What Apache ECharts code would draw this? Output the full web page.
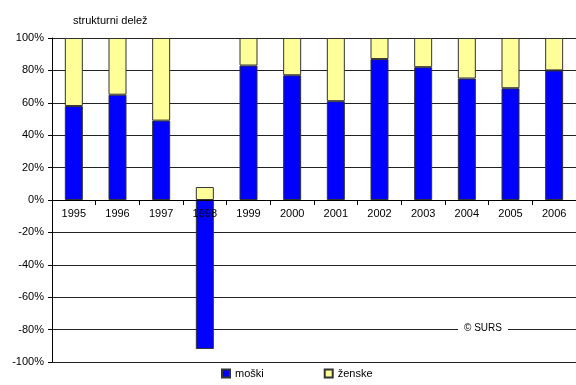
<!DOCTYPE html>
<html><head><meta charset="utf-8">
<script src="https://cdn.jsdelivr.net/npm/echarts@6/dist/echarts.min.js"></script>
<style>html,body{margin:0;padding:0;background:#fff}#c{width:576px;height:385px}</style>
</head><body><div id="c"></div>
<script>
var years = ['1995','1996','1997','1998','1999','2000','2001','2002','2003','2004','2005','2006'];
var moski = [58, 65, 49, -92, 83, 77, 61, 87, 82, 75, 69, 80];
var zenske = [42, 35, 51, 8, 17, 23, 39, 13, 18, 25, 31, 20];
var yTicks = [-100, -80, -60, -40, -20, 0, 20, 40, 60, 80, 100];

var chart = echarts.init(document.getElementById('c'), null, {renderer: 'canvas'});
var font = 'Liberation Sans, Arial, sans-serif';
chart.setOption({
  animation: false,
  backgroundColor: '#fff',
  textStyle: {fontFamily: font},
  title: {text: 'strukturni delež', left: 68, top: 10, textStyle: {fontSize: 11, fontWeight: 'normal', color: '#000', fontFamily: font}},
  legend: {
    bottom: 1, left: 216, itemGap: 60, itemWidth: 8, itemHeight: 8,
    textStyle: {fontSize: 11, color: '#000', fontFamily: font},
    data: [{name: 'moški', icon: 'rect'}, {name: 'ženske', icon: 'rect'}]
  },
  grid: {left: 52, right: 0, top: 38, bottom: 23},
  xAxis: {
    type: 'category', data: years, position: 'bottom', offset: -162,
    axisLine: {onZero: false, lineStyle: {color: '#000', width: 1}},
    axisTick: {show: true, length: 5, lineStyle: {color: '#000'}},
    axisLabel: {fontSize: 11, color: '#000', margin: 8, fontFamily: font},
    z: 10
  },
  yAxis: {
    type: 'value', min: yTicks[0], max: yTicks[yTicks.length - 1], interval: 20,
    axisLine: {show: true, lineStyle: {color: '#000'}},
    axisTick: {show: true, length: 4, lineStyle: {color: '#000'}},
    axisLabel: {formatter: '{value}%', fontSize: 11, color: '#000', margin: 8, fontFamily: font},
    splitLine: {lineStyle: {color: '#222', width: 1}}
  },
  series: [
    {name: 'moški', type: 'bar', stack: 's', data: moski, barWidth: 18,
     itemStyle: {color: '#0000ff', borderColor: '#333', borderWidth: 1}},
    {name: 'ženske', type: 'bar', stack: 's', data: zenske, barWidth: 18,
     itemStyle: {color: '#ffff99', borderColor: '#333', borderWidth: 1}}
  ],
  graphic: [{
    type: 'text', left: 458, top: 322, z: 100,
    style: {text: '© SURS', fontSize: 10, fill: '#000', fontFamily: font, backgroundColor: '#fff', padding: [1, 6]}
  }]
});
</script></body></html>
